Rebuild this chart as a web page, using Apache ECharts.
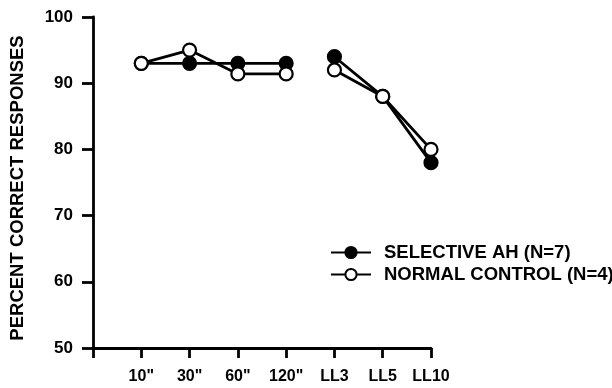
<!DOCTYPE html>
<html>
<head>
<meta charset="utf-8">
<script src="https://cdn.jsdelivr.net/npm/echarts@6/dist/echarts.min.js"></script>
<style>html,body{margin:0;padding:0;background:#fff}#c{width:612px;height:388px}</style>
</head>
<body>
<div id="c"></div>
<script>
var categories = ['', '10"', '30"', '60"', '120"', 'LL3', 'LL5', 'LL10'];
var delayCats = ['10"', '30"', '60"', '120"'];
var llCats = ['LL3', 'LL5', 'LL10'];
var selectiveDelay = [93, 93, 93, 93];
var selectiveLL = [94, 88, 78];
var normalDelay = [93, 95, 91.4, 91.4];
var normalLL = [92, 88, 80];
var yTicks = [50, 60, 70, 80, 90, 100];

function pairs(cats, vals) { return cats.map(function (c, i) { return [c, vals[i]]; }); }

var F = '"Liberation Sans", Arial, sans-serif';
var black = '#000';
function lineSeries(name, data, filled, z) {
  return {
    name: name, type: 'line', data: data, z: z,
    symbol: 'circle', symbolSize: 13,
    lineStyle: { color: black, width: 2.8 },
    itemStyle: { color: filled ? black : '#fff', borderColor: black, borderWidth: 2.2 },
    emphasis: { disabled: true }, animation: false
  };
}
var chart = echarts.init(document.getElementById('c'));
chart.setOption({
  animation: false,
  grid: { left: 91, right: 181, top: 17, bottom: 40 },
  xAxis: {
    type: 'category', data: categories, boundaryGap: false,
    axisLine: { lineStyle: { color: black, width: 2.8 } },
    axisTick: { interval: 0, length: 10, lineStyle: { color: black, width: 2.8 } },
    axisLabel: { interval: 0, color: black, fontFamily: F, fontWeight: 'bold', fontSize: 16, margin: 21 }
  },
  yAxis: {
    type: 'value', min: yTicks[0], max: yTicks[yTicks.length - 1], interval: 10,
    name: 'PERCENT CORRECT RESPONSES', nameLocation: 'middle', nameGap: 66,
    nameTextStyle: { color: black, fontFamily: F, fontWeight: 'bold', fontSize: 18.5, padding: [0, 11, 0, 0] },
    splitLine: { show: false },
    axisLine: { show: true, lineStyle: { color: black, width: 2.8 } },
    axisTick: { show: true, length: 11, lineStyle: { color: black, width: 2.8 } },
    axisLabel: { color: black, fontFamily: F, fontWeight: 'bold', fontSize: 17, margin: 20 }
  },
  legend: {
    orient: 'vertical', left: 325, top: 238, itemGap: 3,
    itemWidth: 40, itemHeight: 14,
    data: ['SELECTIVE AH (N=7)', 'NORMAL CONTROL (N=4)'],
    textStyle: { color: black, fontFamily: F, fontWeight: 'bold', fontSize: 18.5, padding: [0, 0, 0, 8] }
  },
  series: [
    lineSeries('SELECTIVE AH (N=7)', pairs(delayCats, selectiveDelay), true, 2),
    lineSeries('SELECTIVE AH (N=7)', pairs(llCats, selectiveLL), true, 2),
    lineSeries('NORMAL CONTROL (N=4)', pairs(delayCats, normalDelay), false, 3),
    lineSeries('NORMAL CONTROL (N=4)', pairs(llCats, normalLL), false, 3)
  ]
});
</script>
</body>
</html>
